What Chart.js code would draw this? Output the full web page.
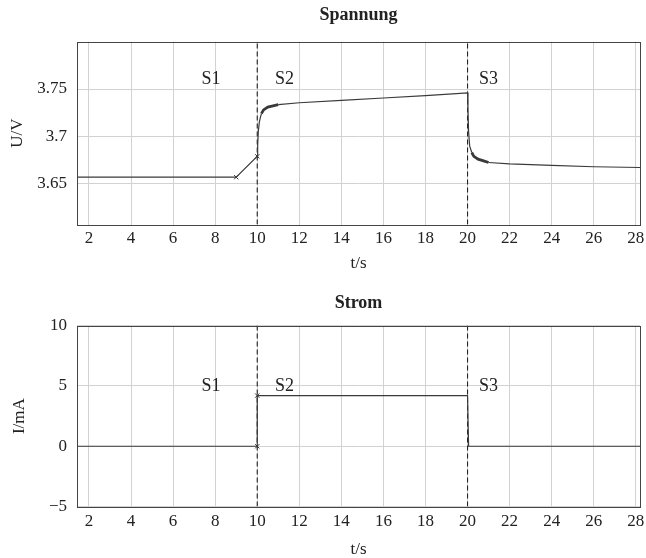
<!DOCTYPE html>
<html><head><meta charset="utf-8">
<script src="https://cdn.jsdelivr.net/npm/chart.js@4/dist/chart.umd.min.js"></script>
<style>
html,body{margin:0;padding:0;background:#fff;}
#wrap{position:relative;width:646px;height:558px;overflow:hidden;}
.box{position:absolute;left:0;width:646px;height:279px;}
#b1{top:0}
#b2{top:279px}
</style></head><body>
<div id="wrap"><div class="box" id="b1"><canvas id="c1"></canvas></div><div class="box" id="b2"><canvas id="c2"></canvas></div></div>
<script>
// ---- data ----
const voltTime  = [1.43, 9, 10, 10.02, 10.05, 10.1, 10.15, 10.2, 10.3, 10.5, 10.8, 11, 12, 14, 16, 18, 20, 20.02, 20.05, 20.1, 20.2, 20.3, 20.5, 20.8, 21, 22, 24, 26, 28.2];
const voltValue = [3.657, 3.657, 3.679, 3.69, 3.705, 3.715, 3.72, 3.724, 3.728, 3.731, 3.7325, 3.7335, 3.7355, 3.738, 3.7405, 3.743, 3.746, 3.73, 3.705, 3.69, 3.683, 3.679, 3.676, 3.674, 3.6725, 3.671, 3.6695, 3.668, 3.6672];
const voltMarkers = [9, 10];
const noisyRanges = [[10.2, 11], [20.2, 21]];
const currTime  = [1.43, 10, 10, 20, 20.05, 28.2];
const currValue = [0, 0, 4.2, 4.2, 0, 0];
const currMarkers = [10];
const phaseBounds = [10, 20];
const phaseLabels = ['S1', 'S2', 'S3'];
const phaseLabelTime = [7.8, 11.3, 21.0];
const voltLabelLevel = 3.76;
const currLabelLevel = 5;
const xTicks = [2, 4, 6, 8, 10, 12, 14, 16, 18, 20, 22, 24, 26, 28];
const voltTicks = [3.65, 3.7, 3.75];
const voltTickLabels = ['3.65', '3.7', '3.75'];
const currTicks = [-5, 0, 5, 10];
const currTickLabels = ['\u22125', '0', '5', '10'];
const xRange = [1.43, 28.2];
const voltRange = [3.607, 3.8];
const currRange = [-5, 10];

// ---- helpers ----
const SERIF = '"Liberation Serif", "DejaVu Serif", serif';
const INK = '#222';
const toPts = (xs, ys) => xs.map((x, i) => ({x: x, y: ys[i]}));

const framePlugin = {
  id: 'frameAndText',
  afterDatasetsDraw(chart, args, opts) {
    const {ctx, chartArea: a, scales} = chart;
    ctx.save();
    ctx.strokeStyle = '#444';
    ctx.lineWidth = 1;
    ctx.strokeRect(Math.round(a.left) + 0.5, Math.round(a.top) + 0.5, Math.round(a.right - a.left), Math.round(a.bottom - a.top));
    ctx.fillStyle = INK;
    ctx.font = '18px ' + SERIF;
    ctx.textAlign = 'center';
    ctx.textBaseline = 'middle';
    opts.labels.forEach((t, i) => {
      ctx.fillText(t, scales.x.getPixelForValue(opts.times[i]), scales.y.getPixelForValue(opts.level));
    });
    ctx.restore();
  }
};

function makeChart(id, cfg) {
  const phaseSets = phaseBounds.map(b => ({
    type: 'line',
    data: [{x: b, y: cfg.yRange[0]}, {x: b, y: cfg.yRange[1]}],
    borderColor: '#222', borderWidth: 1.1, borderDash: [5, 3],
    pointRadius: 0, fill: false, order: 2
  }));
  return new Chart(document.getElementById(id), {
    type: 'line',
    data: {
      datasets: [{
        data: toPts(cfg.xs, cfg.ys),
        borderColor: '#3a3a3a', borderWidth: 1.2, fill: false, tension: 0,
        pointStyle: 'crossRot',
        pointRadius: c => cfg.markers.includes(c.raw && c.raw.x) ? 3 : 0,
        pointBorderColor: '#333', pointBorderWidth: 1,
        segment: {
          borderWidth: c => noisyRanges.some(r => c.p0.parsed.x >= r[0] && c.p1.parsed.x <= r[1]) && cfg.noisy ? 2.8 : 1.2
        },
        order: 1
      }].concat(phaseSets)
    },
    options: {
      responsive: true, maintainAspectRatio: false, animation: false,
      layout: {padding: {left: 0, right: 6, top: 0, bottom: 0}},
      plugins: {
        legend: {display: false}, tooltip: {enabled: false},
        title: {display: true, text: cfg.title, color: INK, fullSize: false,
          font: {family: SERIF, size: 18, weight: 'bold'},
          padding: cfg.titlePad},
        frameAndText: {labels: phaseLabels, times: phaseLabelTime, level: cfg.labelLevel}
      },
      scales: {
        x: {
          type: 'linear', min: xRange[0], max: xRange[1],
          afterBuildTicks: s => { s.ticks = xTicks.map(v => ({value: v})); },
          afterFit: s => { s.paddingRight = 0; s.paddingLeft = 0; },
          ticks: {color: INK, font: {family: SERIF, size: 17}, padding: cfg.xTickPad, maxRotation: 0, autoSkip: false,
            callback: v => String(v)},
          grid: {color: '#d2d2d2', lineWidth: 1, drawTicks: false},
          border: {display: false},
          title: {display: true, text: 't/s', color: INK, font: {family: SERIF, size: 17, lineHeight: 1.0}, padding: cfg.xTitlePad}
        },
        y: {
          type: 'linear', min: cfg.yRange[0], max: cfg.yRange[1],
          afterBuildTicks: s => { s.ticks = cfg.yTicks.map(v => ({value: v})); },
          afterFit: s => { s.width = 77; },
          ticks: {color: INK, font: {family: SERIF, size: 17}, padding: 10, autoSkip: false,
            callback: (v, i) => cfg.yTickLabels[i]},
          grid: {color: '#d2d2d2', lineWidth: 1, drawTicks: false},
          border: {display: false},
          title: {display: true, text: cfg.yTitle, color: INK, font: {family: SERIF, size: 17}, padding: {top: cfg.yTitlePadTop, bottom: 0}}
        }
      }
    },
    plugins: [framePlugin]
  });
}

makeChart('c1', {
  xs: voltTime, ys: voltValue, markers: voltMarkers, noisy: true,
  yRange: voltRange, yTicks: voltTicks, yTickLabels: voltTickLabels,
  title: 'Spannung', yTitle: 'U/V', labelLevel: voltLabelLevel,
  titlePad: {top: 5, bottom: 15}, xTickPad: 4, xTitlePad: {top: 2, bottom: 7}, yTitlePadTop: 7
});
makeChart('c2', {
  xs: currTime, ys: currValue, markers: currMarkers, noisy: false,
  yRange: currRange, yTicks: currTicks, yTickLabels: currTickLabels,
  title: 'Strom', yTitle: 'I/mA', labelLevel: currLabelLevel,
  titlePad: {top: 14, bottom: 11}, xTickPad: 5, xTitlePad: {top: 4, bottom: 0}, yTitlePadTop: 9
});
</script>
</body></html>
